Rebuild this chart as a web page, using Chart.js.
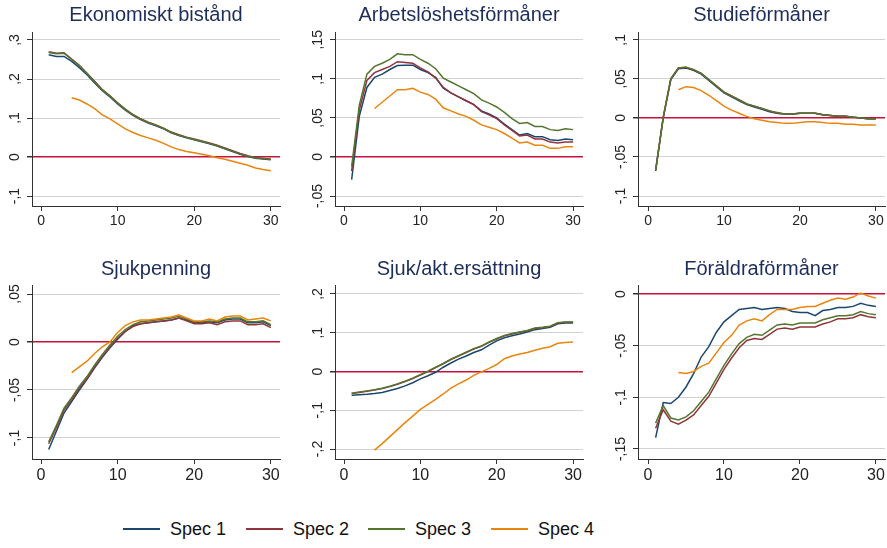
<!DOCTYPE html>
<html>
<head>
<meta charset="utf-8">
<script src="https://cdn.jsdelivr.net/npm/chart.js@4.4.1/dist/chart.umd.min.js"></script>
<style>
  body { margin: 0; background: #fff; width: 887px; height: 548px; position: relative; overflow: hidden; font-family: "Liberation Sans", Arial, sans-serif; }
  canvas { position: absolute; }
  .leg { position: absolute; top: 518px; height: 22px; font-size: 18px; color: #111; line-height: 22px; }
  .leg span.sw { position: absolute; top: 10px; width: 37px; height: 0; border-top: 2px solid; }
  .leg span.tx { position: absolute; left: 47px; white-space: nowrap; }
</style>
</head>
<body>
<canvas id="c1" width="282" height="235" style="left:0px;top:0px"></canvas>
<canvas id="c2" width="282" height="235" style="left:303px;top:0px"></canvas>
<canvas id="c3" width="281" height="235" style="left:606px;top:0px"></canvas>
<canvas id="c4" width="282" height="240" style="left:0px;top:250px"></canvas>
<canvas id="c5" width="282" height="240" style="left:303px;top:250px"></canvas>
<canvas id="c6" width="281" height="240" style="left:606px;top:250px"></canvas>
<div id="legend"></div>
<script>
// x axis: period
const periods = [1,2,3,4,5,6,7,8,9,10,11,12,13,14,15,16,17,18,19,20,21,22,23,24,25,26,27,28,29,30];
const xTicks = [0, 10, 20, 30];

const specNames = ['Spec 1', 'Spec 2', 'Spec 3', 'Spec 4'];
const specColors = ['#1a476f', '#90353b', '#55752f', '#e8850c'];

// Ekonomiskt bistånd
const ekb_s1 = [0.262,0.258,0.258,0.245,0.229,0.211,0.190,0.170,0.154,0.136,0.120,0.107,0.096,0.087,0.080,0.072,0.062,0.055,0.049,0.044,0.039,0.034,0.028,0.021,0.014,0.007,0.001,-0.003,-0.005,-0.007];
const ekb_s2 = [0.270,0.266,0.267,0.251,0.235,0.215,0.194,0.173,0.157,0.139,0.123,0.109,0.098,0.089,0.082,0.074,0.064,0.057,0.051,0.046,0.041,0.036,0.030,0.023,0.016,0.009,0.003,-0.002,-0.004,-0.006];
const ekb_s3 = [0.268,0.265,0.266,0.250,0.234,0.214,0.193,0.172,0.156,0.138,0.122,0.108,0.097,0.088,0.081,0.073,0.063,0.056,0.050,0.045,0.040,0.035,0.029,0.022,0.015,0.008,0.002,-0.002,-0.004,-0.006];
const ekb_s4 = [null,null,null,0.152,0.146,0.136,0.124,0.108,0.098,0.085,0.072,0.063,0.055,0.049,0.043,0.035,0.026,0.019,0.014,0.011,0.007,0.003,-0.002,-0.006,-0.011,-0.016,-0.021,-0.028,-0.032,-0.035];
const ekb_ticks = [0.3, 0.2, 0.1, 0, -0.1];

// Arbetslöshetsförmåner
const arb_s1 = [-0.029,0.052,0.089,0.102,0.106,0.112,0.117,0.1175,0.1175,0.112,0.108,0.102,0.088,0.082,0.077,0.072,0.067,0.059,0.055,0.050,0.042,0.035,0.028,0.030,0.026,0.026,0.022,0.021,0.023,0.022];
const arb_s2 = [-0.018,0.060,0.098,0.108,0.112,0.116,0.122,0.121,0.120,0.114,0.109,0.101,0.089,0.082,0.077,0.072,0.067,0.058,0.054,0.049,0.041,0.034,0.027,0.028,0.023,0.023,0.019,0.018,0.019,0.019];
const arb_s3 = [-0.012,0.066,0.106,0.116,0.120,0.125,0.132,0.131,0.131,0.125,0.120,0.113,0.101,0.096,0.091,0.086,0.081,0.073,0.069,0.064,0.057,0.049,0.043,0.044,0.039,0.039,0.035,0.034,0.036,0.035];
const arb_s4 = [null,null,null,0.062,0.070,0.078,0.086,0.086,0.088,0.083,0.080,0.074,0.063,0.059,0.055,0.052,0.047,0.041,0.038,0.035,0.030,0.024,0.018,0.019,0.015,0.015,0.011,0.011,0.013,0.013];
const arb_ticks = [0.15, 0.1, 0.05, 0, -0.05];

// Studieförmåner
const stu_s1 = [-0.068,0.000,0.049,0.063,0.064,0.061,0.056,0.048,0.040,0.032,0.027,0.022,0.017,0.014,0.011,0.008,0.006,0.005,0.005,0.006,0.006,0.006,0.004,0.003,0.002,0.002,0.001,0.000,-0.001,-0.001];
const stu_s2 = [-0.067,0.000,0.050,0.064,0.065,0.061,0.057,0.049,0.041,0.033,0.028,0.023,0.018,0.015,0.012,0.009,0.006,0.005,0.005,0.006,0.006,0.006,0.004,0.003,0.002,0.002,0.001,0.000,-0.001,-0.001];
const stu_s3 = [-0.067,0.001,0.050,0.064,0.065,0.062,0.057,0.049,0.041,0.033,0.028,0.023,0.018,0.015,0.012,0.009,0.007,0.005,0.005,0.006,0.006,0.006,0.004,0.003,0.002,0.002,0.001,0.000,-0.001,-0.001];
const stu_s4 = [null,null,null,0.036,0.040,0.039,0.035,0.029,0.022,0.015,0.010,0.006,0.002,-0.001,-0.003,-0.005,-0.006,-0.007,-0.007,-0.006,-0.005,-0.005,-0.006,-0.007,-0.007,-0.008,-0.008,-0.009,-0.009,-0.009];
const stu_ticks = [0.1, 0.05, 0, -0.05, -0.1];

// Sjukpenning
const sjp_s1 = [-0.112,-0.093,-0.074,-0.062,-0.050,-0.039,-0.027,-0.016,-0.006,0.003,0.011,0.017,0.019,0.020,0.021,0.022,0.023,0.025,0.023,0.020,0.020,0.021,0.020,0.023,0.024,0.024,0.020,0.020,0.021,0.017];
const sjp_s2 = [-0.106,-0.089,-0.071,-0.060,-0.048,-0.038,-0.026,-0.015,-0.005,0.004,0.011,0.016,0.019,0.020,0.021,0.022,0.023,0.025,0.022,0.019,0.019,0.020,0.018,0.021,0.022,0.022,0.018,0.018,0.019,0.015];
const sjp_s3 = [-0.104,-0.087,-0.069,-0.058,-0.046,-0.036,-0.024,-0.013,-0.003,0.006,0.013,0.018,0.021,0.022,0.023,0.024,0.025,0.027,0.024,0.021,0.021,0.022,0.021,0.024,0.025,0.025,0.021,0.021,0.022,0.018];
const sjp_s4 = [null,null,null,-0.032,-0.026,-0.020,-0.012,-0.005,0.000,0.010,0.017,0.021,0.023,0.023,0.024,0.025,0.026,0.028,0.025,0.022,0.022,0.024,0.022,0.026,0.027,0.027,0.023,0.024,0.025,0.022];
const sjp_ticks = [0.05, 0, -0.05, -0.1];

// Sjuk/akt.ersättning
const sja_s1 = [-0.061,-0.060,-0.059,-0.057,-0.054,-0.049,-0.044,-0.037,-0.029,-0.019,-0.011,-0.002,0.011,0.022,0.032,0.040,0.049,0.056,0.068,0.079,0.087,0.092,0.097,0.102,0.108,0.111,0.114,0.123,0.125,0.125];
const sja_s2 = [-0.057,-0.054,-0.051,-0.048,-0.044,-0.039,-0.033,-0.026,-0.018,-0.009,0.000,0.010,0.020,0.031,0.040,0.049,0.058,0.065,0.075,0.084,0.092,0.097,0.101,0.105,0.111,0.113,0.116,0.125,0.127,0.127];
const sja_s3 = [-0.056,-0.053,-0.050,-0.047,-0.043,-0.038,-0.032,-0.025,-0.017,-0.008,0.001,0.011,0.021,0.032,0.041,0.050,0.059,0.066,0.076,0.085,0.093,0.098,0.102,0.106,0.112,0.114,0.117,0.126,0.128,0.128];
const sja_s4 = [null,null,null,-0.203,-0.186,-0.168,-0.150,-0.132,-0.115,-0.098,-0.085,-0.072,-0.058,-0.043,-0.032,-0.022,-0.010,-0.001,0.008,0.018,0.033,0.040,0.045,0.049,0.055,0.060,0.064,0.073,0.075,0.076];
const sja_ticks = [0.2, 0.1, 0, -0.1, -0.2];

// Föräldraförmåner
const for_s1 = [-0.139,-0.105,-0.106,-0.100,-0.090,-0.077,-0.061,-0.051,-0.037,-0.027,-0.021,-0.015,-0.014,-0.013,-0.015,-0.014,-0.013,-0.014,-0.017,-0.018,-0.018,-0.021,-0.016,-0.015,-0.013,-0.013,-0.012,-0.009,-0.011,-0.012];
const for_s2 = [-0.130,-0.112,-0.123,-0.126,-0.122,-0.117,-0.108,-0.099,-0.086,-0.073,-0.062,-0.052,-0.045,-0.043,-0.044,-0.039,-0.034,-0.033,-0.034,-0.032,-0.032,-0.032,-0.029,-0.027,-0.024,-0.024,-0.023,-0.020,-0.022,-0.023];
const for_s3 = [-0.125,-0.108,-0.120,-0.122,-0.119,-0.113,-0.104,-0.095,-0.082,-0.069,-0.058,-0.048,-0.042,-0.039,-0.040,-0.035,-0.030,-0.029,-0.030,-0.028,-0.028,-0.028,-0.025,-0.023,-0.021,-0.021,-0.020,-0.017,-0.019,-0.020];
const for_s4 = [null,null,null,-0.076,-0.077,-0.075,-0.070,-0.067,-0.057,-0.047,-0.040,-0.030,-0.026,-0.024,-0.026,-0.020,-0.015,-0.015,-0.015,-0.013,-0.012,-0.012,-0.009,-0.006,-0.004,-0.005,-0.003,0.001,-0.002,-0.004];
const for_ticks = [0, -0.05, -0.1, -0.15];

function fmtTick(v){
    if (v === 0) return '0';
    let s = Math.abs(v).toString().replace('0.', ',');
    return (v < 0 ? '-' : '') + s;
}

function toPoints(values){
    const pts = [];
    values.forEach((v, i) => { if (v !== null) pts.push({x: periods[i], y: v}); });
    return pts;
}

// draws the rotated y labels, stata style
const rotatedYLabels = {
    id: 'rotatedYLabels',
    afterDraw(chart){
        const s = chart.scales.y;
        const ctx = chart.ctx;
        ctx.save();
        ctx.fillStyle = '#222';
        ctx.font = '14px "Liberation Sans", Arial, sans-serif';
        ctx.textAlign = 'center';
        ctx.textBaseline = 'middle';
        s.ticks.forEach(t => {
            const y = s.getPixelForValue(t.value);
            ctx.save();
            ctx.translate(chart.chartArea.left - 17, y);
            ctx.rotate(-Math.PI / 2);
            ctx.fillText(fmtTick(t.value), 0, 0);
            ctx.restore();
        });
        ctx.restore();
    }
};

function createPanel(id, title, series, yTicks, ymin, ymax, xmin, xmax, bottomRow){
    const ctx = document.getElementById(id);
    const datasets = series.map((vals, i) => ({
        label: specNames[i],
        data: toPoints(vals),
        borderColor: specColors[i],
        borderWidth: 1.5,
        pointRadius: 0,
        fill: false,
        tension: 0,
        order: 3 - i
    }));
    const cfg = {
        type: 'line',
        data: { datasets: datasets },
        options: {
            responsive: false,
            animation: false,
            layout: { padding: { left: 0, right: 2, top: 0, bottom: 0 } },
            plugins: {
                legend: { display: false },
                tooltip: { enabled: false },
                title: {
                    display: true,
                    text: title,
                    fullSize: false,
                    color: '#1e2d5a',
                    font: { size: 20, family: '"Liberation Sans", Arial, sans-serif', weight: 'normal' },
                    padding: bottomRow ? { top: 7.5, bottom: 3.5 } : { top: 3.5, bottom: 4.5 }
                }
            },
            scales: {
                x: {
                    type: 'linear',
                    min: xmin,
                    max: xmax,
                    afterBuildTicks: (axis) => { axis.ticks = xTicks.map(v => ({ value: v })); },
                    afterFit: (axis) => { axis.height = bottomRow ? 31 : 29; },
                    grid: { drawOnChartArea: false, drawTicks: true, tickLength: 5, tickColor: '#333' },
                    border: { display: true, color: '#333', width: 1 },
                    ticks: {
                        padding: 2,
                        maxRotation: 0,
                        color: '#222',
                        font: { size: bottomRow ? 16 : 14, family: '"Liberation Sans", Arial, sans-serif' },
                        callback: (v) => String(v)
                    }
                },
                y: {
                    min: ymin,
                    max: ymax,
                    afterBuildTicks: (axis) => { axis.ticks = yTicks.map(v => ({ value: v })); },
                    afterFit: (axis) => { axis.width = 32; },
                    grid: {
                        color: (c) => (c.tick && c.tick.value === 0) ? '#c8103c' : '#d2d2d2',
                        lineWidth: (c) => (c.tick && c.tick.value === 0) ? 1.5 : 1,
                        drawTicks: true,
                        tickLength: 5,
                        tickColor: '#333'
                    },
                    border: { display: true, color: '#333', width: 1 },
                    ticks: { display: false }
                }
            }
        },
        plugins: [rotatedYLabels]
    };
    return new Chart(ctx, cfg);
}

createPanel('c1', 'Ekonomiskt bistånd', [ekb_s1, ekb_s2, ekb_s3, ekb_s4], ekb_ticks, -0.1256, 0.3205, -1.18, 31.2, false);
createPanel('c2', 'Arbetslöshetsförmåner', [arb_s1, arb_s2, arb_s3, arb_s4], arb_ticks, -0.0628, 0.160, -1.18, 31.3, false);
createPanel('c3', 'Studieförmåner', [stu_s1, stu_s2, stu_s3, stu_s4], stu_ticks, -0.1128, 0.110, -1.32, 31.2, false);
createPanel('c4', 'Sjukpenning', [sjp_s1, sjp_s2, sjp_s3, sjp_s4], sjp_ticks, -0.1219, 0.0594, -1.18, 31.2, true);
createPanel('c5', 'Sjuk/akt.ersättning', [sja_s1, sja_s2, sja_s3, sja_s4], sja_ticks, -0.2258, 0.2232, -1.18, 31.3, true);
createPanel('c6', 'Föräldraförmåner', [for_s1, for_s2, for_s3, for_s4], for_ticks, -0.1597, 0.0087, -1.32, 31.2, true);

// legend at the bottom
const legendLeft = [123, 246, 368, 491];
const legend = document.getElementById('legend');
specNames.forEach((name, i) => {
    const d = document.createElement('div');
    d.className = 'leg';
    d.style.left = legendLeft[i] + 'px';
    d.innerHTML = '<span class="sw" style="border-color:' + specColors[i] + '"></span><span class="tx">' + name + '</span>';
    legend.appendChild(d);
});
</script>
</body>
</html>
